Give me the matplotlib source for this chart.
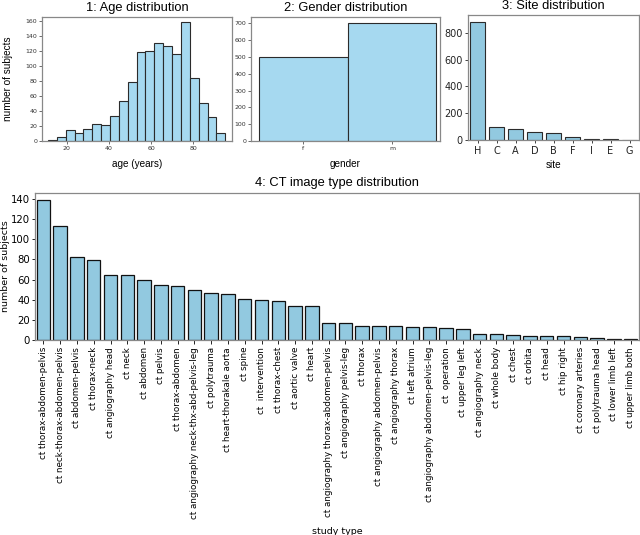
import numpy as np
from matplotlib import pyplot as plt

# age histogram (20 bins)
age_bin_start = 11.1
age_bin_width = 4.2
age_counts = [1, 5, 15, 10, 16, 22, 21, 33, 53, 79, 118, 120, 131, 127, 116, 158, 84, 50, 32, 11]

gender_labels = ['f', 'm']
gender_counts = [498, 702]

site_labels = ['H', 'C', 'A', 'D', 'B', 'F', 'I', 'E', 'G']
site_counts = [882, 95, 82, 57, 53, 24, 11, 7, 3]

study_types = [
    'ct thorax-abdomen-pelvis', 'ct neck-thorax-abdomen-pelvis', 'ct abdomen-pelvis',
    'ct thorax-neck', 'ct angiography head', 'ct neck', 'ct abdomen', 'ct pelvis',
    'ct thorax-abdomen', 'ct angiography neck-thx-abd-pelvis-leg', 'ct polytrauma',
    'ct heart-thorakale aorta', 'ct spine', 'ct  intervention', 'ct thorax-chest',
    'ct aortic valve', 'ct heart', 'ct angiography thorax-abdomen-pelvis',
    'ct angiography pelvis-leg', 'ct thorax', 'ct angiography abdomen-pelvis',
    'ct angiography thorax', 'ct left atrium', 'ct angiography abdomen-pelvis-leg',
    'ct  operation', 'ct upper leg left', 'ct angiography neck', 'ct whole body',
    'ct chest', 'ct orbita', 'ct head', 'ct hip right', 'ct coronary arteries',
    'ct polytrauma head', 'ct lower limb left', 'ct upper limb both',
]
study_counts = [139, 113, 82, 79, 65, 65, 60, 55, 54, 50, 47, 46, 41, 40, 39, 34, 34,
                17, 17, 14, 14, 14, 13, 13, 12, 11, 6, 6, 5, 4, 4, 4, 3, 2, 1, 1]

W, H = 640, 535
hist_color = '#a6d9f0'
bar_color = '#92c9e0'
edge = '#2b2b2b'
title_font = dict(family='Liberation Sans', fontsize=9.3)
label_font = dict(family='Liberation Sans', fontsize=7.2)


def axes_px(fig, x0, y0, x1, y1):
    return fig.add_axes([x0 / W, 1 - y1 / H, (x1 - x0) / W, (y1 - y0) / H])


def style_frame(ax):
    for s in ax.spines.values():
        s.set_color('#888888')
        s.set_linewidth(0.9)


fig = plt.figure(figsize=(6.4, 5.35), dpi=100)

# 1: age
ax1 = axes_px(fig, 42, 17, 232, 141)
lefts = age_bin_start + age_bin_width * np.arange(len(age_counts))
ax1.bar(lefts, age_counts, width=age_bin_width, align='edge', color=hist_color,
        edgecolor=edge, linewidth=0.8)
ax1.set_xlim(8.3, 98.3)
ax1.set_ylim(0, 165)
ax1.set_xticks([20, 40, 60, 80])
ax1.set_yticks(range(0, 161, 20))
ax1.tick_params(labelsize=4.5, length=2, width=0.5, pad=1.5, colors='#333333')
ax1.set_xlabel('age (years)', labelpad=6, **label_font)
ax1.set_ylabel('number of subjects', **label_font)
ax1.yaxis.set_label_coords((13 - 42) / 190, 0.5)
ax1.set_title('1: Age distribution', pad=4, **title_font)
style_frame(ax1)

# 2: gender
ax2 = axes_px(fig, 251, 17, 440, 141)
ax2.bar(range(len(gender_labels)), gender_counts, width=1.0, color=hist_color,
        edgecolor=edge, linewidth=0.8)
ax2.set_xlim(-0.59, 1.54)
ax2.set_ylim(0, 737)
ax2.set_xticks(range(len(gender_labels)))
ax2.set_xticklabels(gender_labels)
ax2.set_yticks(range(0, 701, 100))
ax2.tick_params(labelsize=4.5, length=2, width=0.5, pad=1.5, colors='#333333')
ax2.set_xlabel('gender', labelpad=6, **label_font)
ax2.set_title('2: Gender distribution', pad=4, **title_font)
style_frame(ax2)

# 3: site
ax3 = axes_px(fig, 468, 15, 639, 140)
ax3.bar(range(len(site_labels)), site_counts, width=0.8, color=bar_color,
        edgecolor=edge, linewidth=0.8)
ax3.set_xlim(-0.5, len(site_labels) - 0.5)
ax3.set_ylim(0, 932)
ax3.set_xticks(range(len(site_labels)))
ax3.set_xticklabels(site_labels)
ax3.set_yticks(range(0, 801, 200))
ax3.tick_params(labelsize=7, length=2.5, width=0.6, pad=1.5, colors='#222222')
ax3.set_xlabel('site', labelpad=3, **label_font)
ax3.set_title('3: Site distribution', pad=4, **title_font)
style_frame(ax3)

# 4: CT study types
ax4 = axes_px(fig, 35, 193, 639, 340)
ax4.bar(range(len(study_types)), study_counts, width=0.8, color=bar_color,
        edgecolor='#111111', linewidth=0.9)
ax4.set_xlim(-0.5, len(study_types) - 0.5)
ax4.set_ylim(0, 146)
ax4.set_xticks(range(len(study_types)))
ax4.set_xticklabels(study_types, rotation=90, fontsize=6.3)
ax4.set_yticks(range(0, 141, 20))
ax4.tick_params(axis='y', labelsize=7.3, length=2.5, width=0.6, pad=1)
ax4.tick_params(axis='x', length=3, width=0.6, pad=2)
ax4.set_xlabel('study type', fontsize=6.8, labelpad=6)
ax4.set_ylabel('number of subjects', fontsize=6.8)
ax4.yaxis.set_label_coords((10 - 35) / 604, 0.5)
ax4.set_title('4: CT image type distribution', pad=5, **title_font)
style_frame(ax4)

fig.savefig('out.png', dpi=100)
